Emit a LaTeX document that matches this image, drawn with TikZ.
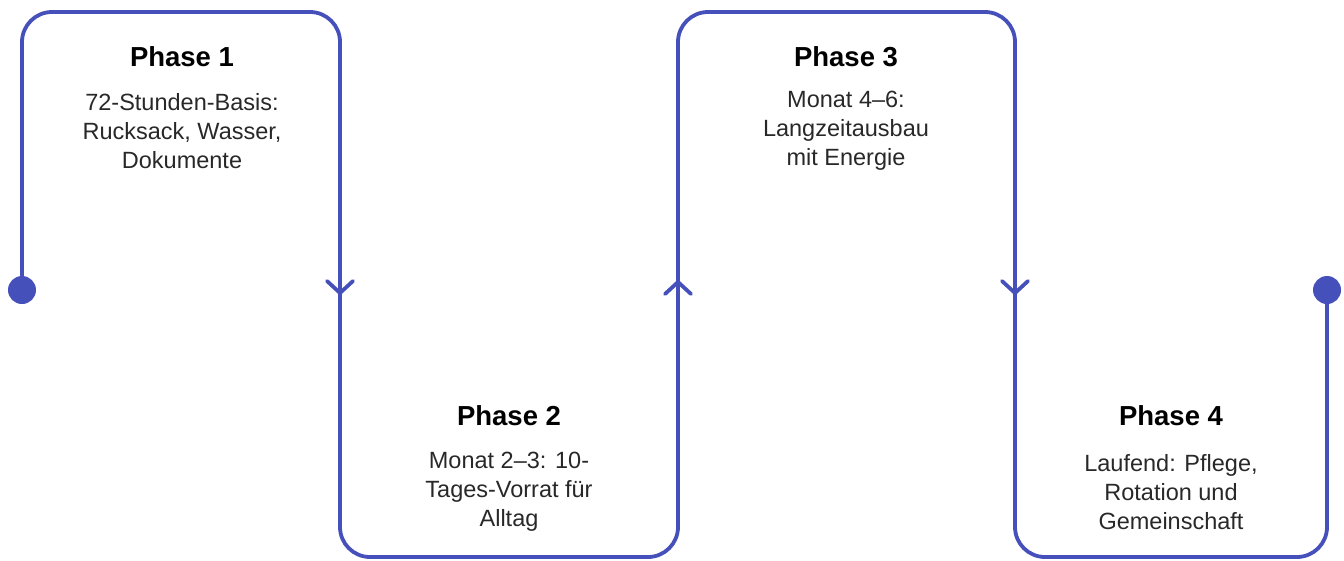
\documentclass[tikz,border=0pt]{standalone}
\usepackage{fontspec}
\setmainfont{Liberation Sans}
\definecolor{track}{RGB}{70,80,186}
\definecolor{bodytext}{RGB}{40,40,40}
\begin{document}
\begin{tikzpicture}[x=1pt,y=-1pt,
  trackline/.style={draw=track,line width=3.8pt,line join=round,line cap=round},
  enddot/.style={circle,fill=track,inner sep=0pt,minimum size=28pt},
  phasetitle/.style={font=\fontsize{27.5}{30}\selectfont\bfseries,text=black,inner sep=0pt},
  phasebody/.style={font=\fontsize{23.5}{29}\selectfont,text=bodytext,align=center,inner sep=0pt}]
\useasboundingbox (0,0) rectangle (1344,560);

% corner points of the winding track
\coordinate (s) at (22,290);
\coordinate (a1) at (22,12);
\coordinate (a2) at (340,12);
\coordinate (b1) at (340,557);
\coordinate (b2) at (678,557);
\coordinate (c1) at (678,12);
\coordinate (c2) at (1015,12);
\coordinate (d1) at (1015,557);
\coordinate (d2) at (1327,557);
\coordinate (e) at (1327,290);

\draw[trackline,rounded corners=30pt] (s) -- (a1) -- (a2) -- (b1) -- (b2) -- (c1) -- (c2) -- (d1) -- (d2) -- (e);

\node[enddot] (startdot) at (s) {};
\node[enddot] (enddot) at (e) {};

% direction chevrons
\draw[trackline] (327,281) -- (340,293) -- (353,281);
\draw[trackline] (665,294) -- (678,282) -- (691,294);
\draw[trackline] (1002,281) -- (1015,293) -- (1028,281);

% phase labels
\node[phasetitle] (t1) at (182,57) {Phase 1};
\node[phasebody] (p1) at (182,131) {72-Stunden-Basis:\\Rucksack, Wasser,\\Dokumente};

\node[phasetitle] (t2) at (509,416) {Phase 2};
\node[phasebody] (p2) at (509,492) {Monat 2–3: 10-\\Tages-Vorrat für\\Alltag};

\node[phasetitle] (t3) at (846,57) {Phase 3};
\node[phasebody] (p3) at (846,131) {Monat 4–6:\\Langzeitausbau\\mit Energie};

\node[phasetitle] (t4) at (1171,416) {Phase 4};
\node[phasebody] (p4) at (1171,492) {Laufend: Pflege,\\Rotation und\\Gemeinschaft};
\end{tikzpicture}
\end{document}
